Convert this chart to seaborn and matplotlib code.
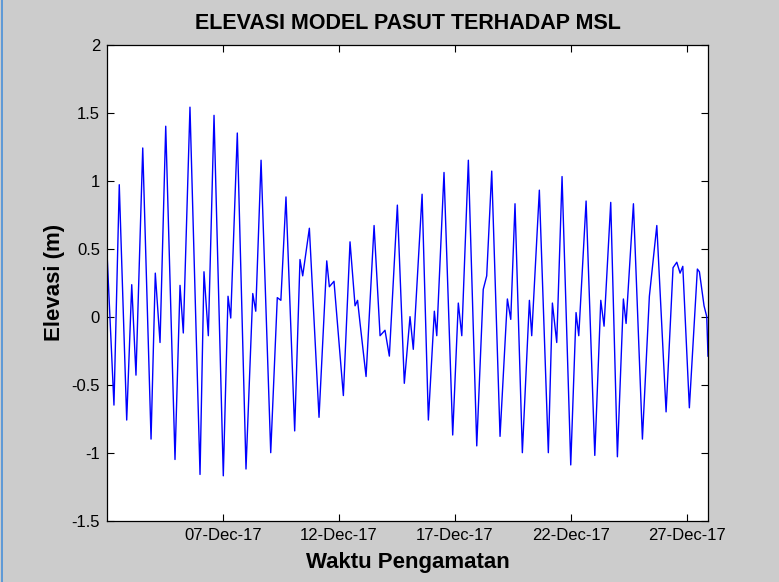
# Elevasi model pasut terhadap MSL (Desember 2017)
import pandas as pd
import matplotlib
matplotlib.use('Agg')
import matplotlib.pyplot as plt
import matplotlib.dates as mdates
from matplotlib.lines import Line2D
import seaborn as sns

# data: titik puncak/lembah (jam sejak 02-Dec-2017 00:00, elevasi m)
jam = [0.0, 7.2, 12.7, 20.4, 25.6, 30.0, 37.0, 45.6, 50.0, 54.9,
       60.8, 70.4, 75.6, 79.0, 85.9, 96.3, 100.4, 104.9, 110.8, 120.4,
       125.3, 128.1, 134.9, 143.9, 150.9, 154.0, 159.5, 169.5, 176.3, 180.0,
       185.3, 194.3, 199.8, 202.6, 209.5, 219.5, 227.5, 230.2, 235.0, 244.7,
       251.6, 256.8, 259.4, 262.0, 268.2, 276.5, 282.7, 287.8, 292.3, 300.6,
       307.8, 313.7, 317.1, 326.2, 332.7, 338.9, 341.4, 348.9, 357.9, 363.7,
       367.3, 374.1, 382.8, 389.5, 393.1, 398.3, 406.9, 414.5, 418.0, 422.4,
       430.0, 437.3, 439.7, 447.6, 456.9, 461.1, 465.6, 471.1, 480.1, 485.6,
       488.4, 496.0, 505.0, 511.2, 514.6, 521.5, 528.4, 534.6, 537.4, 545.0,
       554.3, 561.5, 569.2, 578.8, 586.0, 589.9, 593.3, 596.1, 602.9, 611.2,
       613.3, 618.1, 620.9, 622.2]
elevasi = [0.47, -0.65, 0.97, -0.76, 0.235, -0.43, 1.24, -0.90, 0.32, -0.19,
           1.40, -1.05, 0.23, -0.12, 1.54, -1.16, 0.33, -0.14, 1.48, -1.17,
           0.15, -0.01, 1.35, -1.12, 0.17, 0.04, 1.15, -1.00, 0.14, 0.12,
           0.88, -0.84, 0.42, 0.30, 0.65, -0.74, 0.41, 0.22, 0.26, -0.58,
           0.55, 0.08, 0.12, -0.05, -0.44, 0.67, -0.14, -0.10, -0.29, 0.82,
           -0.49, 0.00, -0.24, 0.90, -0.76, 0.04, -0.14, 1.06, -0.87, 0.10,
           -0.14, 1.15, -0.95, 0.20, 0.30, 1.07, -0.88, 0.13, -0.02, 0.83,
           -1.00, 0.12, -0.14, 0.93, -1.00, 0.10, -0.19, 1.03, -1.09, 0.03,
           -0.14, 0.85, -1.02, 0.12, -0.07, 0.84, -1.03, 0.13, -0.05, 0.83,
           -0.90, 0.15, 0.67, -0.70, 0.36, 0.40, 0.32, 0.37, -0.67, 0.35,
           0.33, 0.08, 0.00, -0.29]

mulai = pd.Timestamp('2017-12-02 00:00')
tick_tanggal = ['2017-12-07', '2017-12-12', '2017-12-17', '2017-12-22', '2017-12-27']
y_ticks = [-1.5, -1, -0.5, 0, 0.5, 1, 1.5, 2]
y_labels = ['-1.5', '-1', '-0.5', '0', '0.5', '1', '1.5', '2']

df = pd.DataFrame({'waktu': mulai + pd.to_timedelta(jam, unit='h'),
                   'elevasi': elevasi})

plt.rcParams['font.family'] = ['Liberation Sans', 'DejaVu Sans']
plt.rcParams['xtick.direction'] = 'in'
plt.rcParams['ytick.direction'] = 'in'
plt.rcParams['xtick.top'] = True
plt.rcParams['ytick.right'] = True

fig = plt.figure(figsize=(7.79, 5.82), dpi=100, facecolor='#cccccc')
ax = fig.add_axes([107 / 779, 1 - 520.7 / 582, 601 / 779, 476.1 / 582])
ax.set_facecolor('white')

sns.lineplot(data=df, x='waktu', y='elevasi', ax=ax, color='#0000ff',
             linewidth=1.0, estimator=None)

ax.set_xlim(df['waktu'].min(), df['waktu'].max())
ax.set_ylim(-1.5, 2)
ax.set_xticks(pd.to_datetime(tick_tanggal))
ax.xaxis.set_major_formatter(mdates.DateFormatter('%d-%b-%y'))
ax.set_yticks(y_ticks)
ax.set_yticklabels(y_labels)
ax.tick_params(axis='both', length=5, width=0.8, labelsize=12, colors='black', pad=5)
for s in ax.spines.values():
    s.set_color('black')
    s.set_linewidth(0.9)

ax.set_title('ELEVASI MODEL PASUT TERHADAP MSL', fontsize=15.5, fontweight='bold', pad=11)
ax.set_xlabel('Waktu Pengamatan', fontsize=16, fontweight='bold', labelpad=7)
ax.set_ylabel('Elevasi (m)', fontsize=16, fontweight='bold', labelpad=5)

# garis tepi jendela di kiri
fig.add_artist(Line2D([0.002, 0.002], [0, 1], color='#4a90d9', linewidth=1.2))

fig.savefig('out.png', dpi=100, facecolor=fig.get_facecolor())
